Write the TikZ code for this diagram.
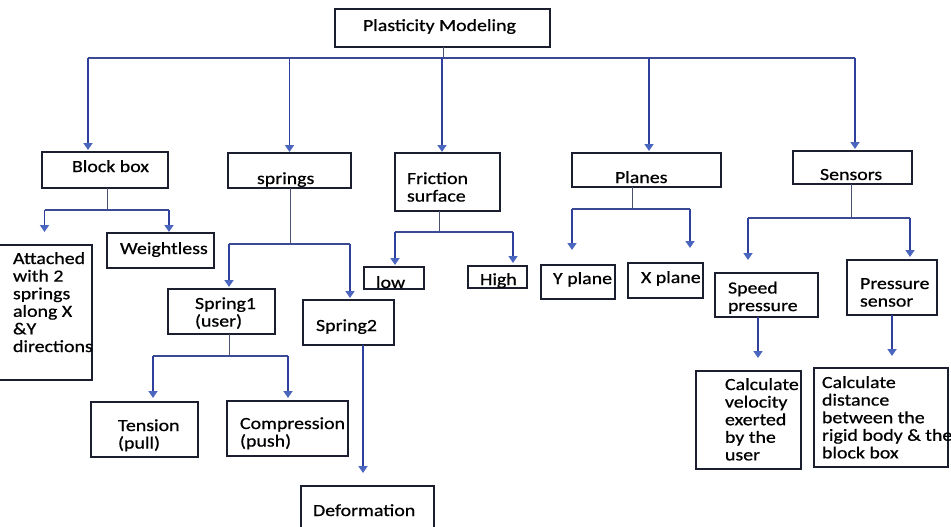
\documentclass[tikz,border=0pt]{standalone}
\usepackage{fontspec}
\setmainfont{Carlito}[FakeStretch=1.17,FakeBold=0.7]
\usetikzlibrary{arrows.meta}
\definecolor{conn}{HTML}{2E3F9E}
\definecolor{busc}{HTML}{3A4A94}
\definecolor{tipc}{HTML}{4A66BE}
\definecolor{boxc}{HTML}{1A1E2E}
\definecolor{stemc}{HTML}{4A5070}
\newcommand\bxtext[5]{\begin{minipage}[c][#2pt][t]{#1pt}\fontsize{17}{17.6}\selectfont\lineskiplimit=-100pt\relax\vspace*{\dimexpr#4pt-\ht\strutbox\relax}\raggedright\leftskip=#3pt\relax\hyphenpenalty=10000\strut#5\end{minipage}}
\tikzset{
  box/.style={draw=boxc, line width=1.6pt, inner sep=0pt, outer sep=0pt},
  arr/.style={draw=conn, line width=1.8pt, -{Triangle[width=9pt,length=7pt,color=tipc]}},
  busl/.style={draw=busc, line width=1.4pt},
  stemline/.style={draw=stemc, line width=1pt},
}
\begin{document}
\begin{tikzpicture}[x=1pt,y=-1pt]
\useasboundingbox (0,0) rectangle (951,527);
% level 0
\node[box] (root) at (442.5,28) {\bxtext{215}{38}{28}{22}{Plasticity Modeling}};
% level 1
\node[box] (bb) at (105,170) {\bxtext{126}{36}{30}{20}{Block box}};
\node[box] (spr) at (289.5,170.5) {\bxtext{123}{35}{29}{31}{springs}};
\node[box] (fri) at (447.5,182) {\bxtext{105}{58}{12}{31}{Friction\\surface}};
\node[box] (pla) at (646.5,170) {\bxtext{149}{34}{43}{30}{Planes}};
\node[box] (sen) at (852.5,167.5) {\bxtext{119}{33}{27}{29}{Sensors}};
% level 2
\node[box] (att) at (44.5,312.5) {\bxtext{95}{135}{16}{19}{\mbox{Attached}\\\mbox{with 2}\\\mbox{springs}\\\mbox{along X}\\\mbox{\&Y}\\\mbox{directions}}};
\node[box] (wt) at (160.5,250.5) {\bxtext{107}{35}{13}{21}{Weightless}};
\node[box] (s1) at (221.5,311.5) {\bxtext{107}{45}{27}{20}{Spring1\\(user)}};
\node[box] (s2) at (348.5,322.5) {\bxtext{91}{45}{13}{31}{Spring2}};
\node[box] (low) at (394,278) {\bxtext{60}{22}{12}{21}{low}};
\node[box] (high) at (497.5,277) {\bxtext{59}{22}{12}{19}{High}};
\node[box] (yp) at (578,282) {\bxtext{74}{34}{12}{19}{\mbox{Y plane}}};
\node[box] (xp) at (665.5,280.5) {\bxtext{75}{35}{13}{20}{\mbox{X plane}}};
\node[box] (spd) at (766.5,295) {\bxtext{103}{44}{13}{20.5}{Speed\\pressure}};
\node[box] (ps) at (892,287.5) {\bxtext{90}{55}{13}{29}{Pressure\\sensor}};
% level 3
\node[box] (ten) at (144.5,429.5) {\bxtext{107}{55}{27}{29}{Tension\\(pull)}};
\node[box] (cmp) at (287.5,428.5) {\bxtext{121}{55}{13}{28}{\mbox{Compression}\\(push)}};
\node[box] (def) at (367.5,513) {\bxtext{133}{54}{12}{30}{Deformation}};
\node[box] (cv) at (748.5,420) {\bxtext{105}{98}{29}{19}{\mbox{Calculate}\\\mbox{velocity}\\\mbox{exerted}\\\mbox{by the}\\\mbox{user}}};
\node[box] (cd) at (881,417.5) {\bxtext{134}{99}{8}{20}{\mbox{Calculate}\\\mbox{distance}\\\mbox{between the}\\\mbox{rigid body \& the}\\\mbox{block box}}};
% junctions
\coordinate (rootJ) at (443,58);
\coordinate (bbJ) at (107,210);
\coordinate (sprJ) at (290,244);
\coordinate (s1J) at (229,356);
\coordinate (friJ) at (439,232);
\coordinate (plaJ) at (632,209);
\coordinate (senJ) at (851,218);
% top level connectors
\draw[stemline] (root.south -| rootJ) -- (rootJ);
\draw[busl] ([xshift=-17pt]bb.north |- rootJ) -- ([xshift=2.5pt]sen.north |- rootJ);
\draw[arr, shorten >=2pt] ([xshift=-17pt]bb.north |- rootJ) -- ([xshift=-17pt]bb.north);
\draw[arr, shorten >=1pt] (spr.north |- rootJ) -- (spr.north);
\draw[arr, shorten >=1pt] ([xshift=-5.5pt]fri.north |- rootJ) -- ([xshift=-5.5pt]fri.north);
\draw[arr, shorten >=2pt] ([xshift=2.5pt]pla.north |- rootJ) -- ([xshift=2.5pt]pla.north);
\draw[arr, shorten >=2pt] ([xshift=2.5pt]sen.north |- rootJ) -- ([xshift=2.5pt]sen.north);
% block box
\draw[stemline] (bb.south -| bbJ) -- (bbJ);
\draw[busl] (att.north |- bbJ) -- ([xshift=8.5pt]wt.north |- bbJ);
\draw[arr, shorten >=13pt] (att.north |- bbJ) -- (att.north);
\draw[arr, shorten >=1pt] ([xshift=8.5pt]wt.north |- bbJ) -- ([xshift=8.5pt]wt.north);
% springs
\draw[stemline] (spr.south -| sprJ) -- (sprJ);
\draw[busl] ([xshift=7.5pt]s1.north |- sprJ) -- ([xshift=1.5pt]s2.north |- sprJ);
\draw[arr, shorten >=2pt] ([xshift=7.5pt]s1.north |- sprJ) -- ([xshift=7.5pt]s1.north);
\draw[arr, shorten >=2pt] ([xshift=1.5pt]s2.north |- sprJ) -- ([xshift=1.5pt]s2.north);
% spring1
\draw[stemline] (s1.south -| s1J) -- (s1J);
\draw[busl] ([xshift=8.5pt]ten.north |- s1J) -- ([xshift=0.5pt]cmp.north |- s1J);
\draw[arr, shorten >=4pt] ([xshift=8.5pt]ten.north |- s1J) -- ([xshift=8.5pt]ten.north);
\draw[arr, shorten >=3pt] ([xshift=0.5pt]cmp.north |- s1J) -- ([xshift=0.5pt]cmp.north);
% spring2
\draw[arr, shorten >=13pt] ([xshift=14.5pt]s2.south) -- ([xshift=14.5pt]s2.south |- def.north);
% friction
\draw[stemline] (fri.south -| friJ) -- (friJ);
\draw[busl] ([xshift=1pt]low.north |- friJ) -- ([xshift=15.5pt]high.north |- friJ);
\draw[arr, shorten >=2pt] ([xshift=1pt]low.north |- friJ) -- ([xshift=1pt]low.north);
\draw[arr, shorten >=3pt] ([xshift=15.5pt]high.north |- friJ) -- ([xshift=15.5pt]high.north);
% planes
\draw[stemline] (pla.south -| plaJ) -- (plaJ);
\draw[busl] ([xshift=-6pt]yp.north |- plaJ) -- ([xshift=24.5pt]xp.north |- plaJ);
\draw[arr, shorten >=15pt] ([xshift=-6pt]yp.north |- plaJ) -- ([xshift=-6pt]yp.north);
\draw[arr, shorten >=15pt] ([xshift=24.5pt]xp.north |- plaJ) -- ([xshift=24.5pt]xp.north);
% sensors
\draw[stemline] (sen.south -| senJ) -- (senJ);
\draw[busl] ([xshift=-18.5pt]spd.north |- senJ) -- ([xshift=18pt]ps.north |- senJ);
\draw[arr, shorten >=13pt] ([xshift=-18.5pt]spd.north |- senJ) -- ([xshift=-18.5pt]spd.north);
\draw[arr, shorten >=3pt] ([xshift=18pt]ps.north |- senJ) -- ([xshift=18pt]ps.north);
% sensors' children
\draw[arr, shorten >=13pt] ([xshift=-8.5pt]spd.south) -- ([xshift=-8.5pt]spd.south |- cv.north);
\draw[arr, shorten >=12pt] (ps.south) -- (ps.south |- cd.north);
\end{tikzpicture}
\end{document}
